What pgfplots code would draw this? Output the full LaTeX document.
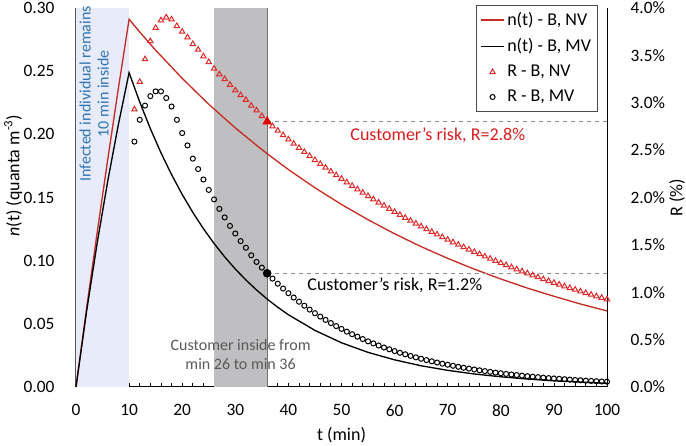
\documentclass[border=0pt]{standalone}
\usepackage{fontspec}
\setmainfont{Carlito}
\usepackage{pgfplots}
\pgfplotsset{compat=1.18}

\definecolor{nvred}{RGB}{196,45,35}
\definecolor{trired}{RGB}{222,40,40}
\definecolor{txtred}{RGB}{215,30,30}
\definecolor{infblue}{RGB}{46,117,182}
\definecolor{bandblue}{RGB}{231,235,250}
\definecolor{bandgray}{RGB}{191,190,192}
\definecolor{dashgray}{RGB}{140,140,140}

\pgfplotsset{
  common/.style={
    scale only axis, width=398.25pt, height=284.25pt,
    xmin=0, xmax=100, ymin=0,
    clip=false,
    /pgf/number format/assume math mode=true,
    tick label style={font=\fontsize{13}{15}\selectfont},
  }
}

\begin{document}
\fontsize{13.5}{16}\selectfont
\begin{tikzpicture}
\useasboundingbox (-57pt,-44.25pt) rectangle (457.5pt,290.25pt);

% left axis: concentration n(t)
\begin{axis}[common, ymax=0.3,
  axis x line*=bottom, axis y line*=left,
  xtick={0,10,20,30,40,50,60,70,80,90,100}, minor x tick num=4,
  ytick={0,0.05,0.1,0.15,0.2,0.25,0.3},
  yticklabel style={/pgf/number format/fixed,/pgf/number format/fixed zerofill,
    /pgf/number format/precision=2, xshift=-11.5pt},
  xticklabel style={yshift=-8.5pt},
  major tick length=3pt, minor tick length=3pt,
  ytick style={draw=none}, xtick style={black, line width=0.6pt},
  x axis line style={-, black, line width=0.75pt},
  y axis line style={-, black!65, line width=1.2pt},
]
\addplot[fill=bandblue, draw=none] coordinates {(0,0) (0,0.3) (10,0.3) (10,0)} -- cycle;
\addplot[fill=bandgray, draw=none] coordinates {(26,0) (26,0.3) (36,0.3) (36,0)} -- cycle;
\addplot[black!55, line width=0.75pt] coordinates {(36,0) (36,0.3)};

% n(t) - B, NV
\addplot[nvred, line width=1pt] coordinates {
(0,0) (2,0.0624) (4,0.1226) (6,0.1807) (8,0.2369) (10,0.2911)
(12,0.2810) (15,0.2666) (20,0.2443) (25,0.2238) (30,0.2051) (35,0.1879)
(40,0.1721) (45,0.1577) (50,0.1445) (55,0.1324) (60,0.1213) (65,0.1111)
(70,0.1018) (75,0.0933) (80,0.0855) (85,0.0783) (90,0.0718) (95,0.0657) (100,0.0602)
};
% n(t) - B, MV
\addplot[black, line width=1pt] coordinates {
(0,0) (2,0.0600) (4,0.1143) (6,0.1635) (8,0.2082) (10,0.2488)
(12,0.2256) (14,0.2045) (16,0.1854) (18,0.1681) (20,0.1524) (22,0.1382)
(24,0.1253) (26,0.1136) (28,0.1030) (30,0.0934) (32,0.0847) (34,0.0768)
(36,0.0696) (38,0.0631) (40,0.0572) (45,0.0448) (50,0.0350) (55,0.0274)
(60,0.0215) (65,0.0168) (70,0.0132) (75,0.0103) (80,0.0081) (85,0.0063)
(90,0.0049) (95,0.0039) (100,0.0030)
};

\node[rotate=90, align=center, text=infblue, font=\fontsize{12}{13.5}\selectfont]
  at (axis cs:3.4,0.232) {Infected individual remains\\10 min inside};
\node[align=center, text=black!65, font=\fontsize{12}{14.25}\selectfont]
  at (axis cs:31,0.0257) {Customer inside from\\min 26 to min 36};
\node at ([yshift=-36pt]rel axis cs:0.5,0) {t (min)};
\node[rotate=90] at ([xshift=-47pt]rel axis cs:0,0.558) {\textit{n}(t) (quanta m\textsuperscript{-3})};
\end{axis}

% right axis: risk R
\begin{axis}[common, ymax=4,
  axis x line=none, axis y line*=right,
  ytick={0,0.5,1,1.5,2,2.5,3,3.5,4},
  yticklabel={\pgfmathprintnumber[fixed,fixed zerofill,precision=1]{\tick}\%},
  yticklabel style={xshift=13pt},
  ytick style={draw=none},
  y axis line style={-, black, line width=0.75pt},
  legend style={at={(rel axis cs:0.983,1.008)}, anchor=north east,
    draw=black!70, fill=white, font=\fontsize{13.5}{16}\selectfont,
    row sep=4pt, inner sep=3pt},
  legend cell align=left,
]
\addlegendimage{nvred, line width=1pt}
\addlegendentry{n(t) - B, NV}
\addlegendimage{black, line width=1pt}
\addlegendentry{n(t) - B, MV}

% R - B, NV
\addplot[only marks, mark=triangle, mark size=2.3pt, trired, mark options={line width=0.75pt}] coordinates {
(11,2.93) (12,3.22) (13,3.46) (14,3.65) (15,3.79) (16,3.87) (17,3.90) (18,3.88)
(19,3.81) (20,3.75) (21,3.69) (22,3.62) (23,3.56) (24,3.49) (25,3.43) (26,3.36)
(27,3.30) (28,3.25) (29,3.19) (30,3.13) (31,3.08) (32,3.03) (33,2.97) (34,2.92)
(35,2.86) (36,2.80) (37,2.752) (38,2.705) (39,2.658) (40,2.613) (41,2.568)
(42,2.524) (43,2.481) (44,2.438) (45,2.396) (46,2.355) (47,2.315) (48,2.275)
(49,2.236) (50,2.198) (51,2.160) (52,2.123) (53,2.087) (54,2.051) (55,2.016)
(56,1.981) (57,1.947) (58,1.914) (59,1.881) (60,1.849) (61,1.817) (62,1.786)
(63,1.755) (64,1.725) (65,1.696) (66,1.666) (67,1.638) (68,1.610) (69,1.582)
(70,1.555) (71,1.528) (72,1.502) (73,1.476) (74,1.451) (75,1.426) (76,1.402)
(77,1.378) (78,1.354) (79,1.331) (80,1.308) (81,1.286) (82,1.264) (83,1.242)
(84,1.221) (85,1.200) (86,1.179) (87,1.159) (88,1.139) (89,1.119) (90,1.100)
(91,1.081) (92,1.063) (93,1.045) (94,1.027) (95,1.009) (96,0.992) (97,0.975)
(98,0.958) (99,0.942) (100,0.926)
};
\addlegendentry{R - B, NV}

% R - B, MV
\addplot[only marks, mark=o, mark size=1.9pt, black, mark options={line width=0.75pt}] coordinates {
(11,2.59) (12,2.82) (13,2.97) (14,3.07) (15,3.12) (16,3.12) (17,3.05) (18,2.96)
(19,2.82) (20,2.68) (21,2.55) (22,2.41) (23,2.30) (24,2.19) (25,2.08) (26,1.98)
(27,1.88) (28,1.79) (29,1.70) (30,1.62) (31,1.54) (32,1.47) (33,1.39) (34,1.32)
(35,1.26) (36,1.20) (37,1.144) (38,1.090) (39,1.039) (40,0.990) (41,0.944)
(42,0.900) (43,0.858) (44,0.817) (45,0.779) (46,0.743) (47,0.708) (48,0.675)
(49,0.643) (50,0.613) (51,0.584) (52,0.557) (53,0.531) (54,0.506) (55,0.482)
(56,0.460) (57,0.438) (58,0.417) (59,0.398) (60,0.379) (61,0.361) (62,0.345)
(63,0.328) (64,0.313) (65,0.298) (66,0.284) (67,0.271) (68,0.258) (69,0.246)
(70,0.235) (71,0.224) (72,0.213) (73,0.203) (74,0.194) (75,0.185) (76,0.176)
(77,0.168) (78,0.160) (79,0.152) (80,0.145) (81,0.138) (82,0.132) (83,0.126)
(84,0.120) (85,0.114) (86,0.109) (87,0.104) (88,0.099) (89,0.094) (90,0.090)
(91,0.086) (92,0.082) (93,0.078) (94,0.074) (95,0.071) (96,0.067) (97,0.064)
(98,0.061) (99,0.058) (100,0.056)
};
\addlegendentry{R - B, MV}

% customer's risk at min 36
\addplot[dashgray, dashed, line width=0.9pt, forget plot] coordinates {(36,2.8) (100,2.8)};
\addplot[dashgray, dashed, line width=0.9pt, forget plot] coordinates {(36,1.2) (100,1.2)};
\addplot[only marks, mark=triangle*, mark size=3.8pt, color=red!90!black, forget plot] coordinates {(36,2.8)};
\addplot[only marks, mark=*, mark size=3pt, black, forget plot] coordinates {(36,1.2)};

\node[anchor=west, text=txtred] at (axis cs:50.5,2.66) {Customer’s risk, R=2.8\%};
\node[anchor=west] at (axis cs:42.4,1.07) {Customer’s risk, R=1.2\%};
\node[rotate=90] at ([xshift=52.5pt]rel axis cs:1,0.5) {R (\%)};
\end{axis}
\end{tikzpicture}
\end{document}
